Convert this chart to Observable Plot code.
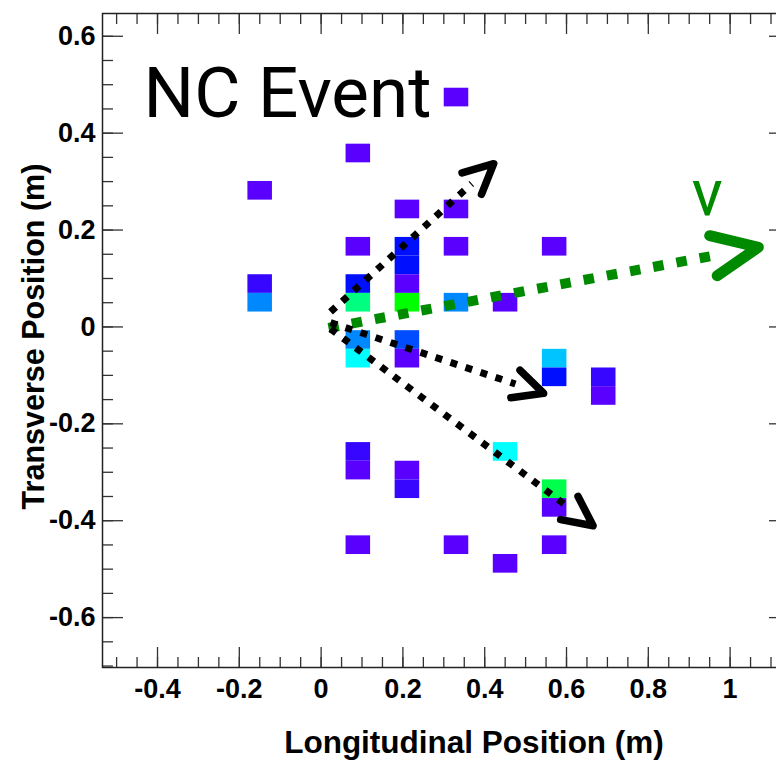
<!DOCTYPE html>
<html>
<head>
<meta charset="utf-8">
<script src="https://cdn.jsdelivr.net/npm/d3@7"></script>
<script src="https://cdn.jsdelivr.net/npm/@observablehq/plot@0.6"></script>
<style>
  html, body { margin: 0; padding: 0; background: #fff; overflow: hidden; }
  #chart svg { display: block; max-width: none !important; width: 790px !important; height: 761px !important; }
</style>
</head>
<body>
<div id="chart"></div>
<script>
// Hit cells of the event display: centre positions (m) and energy level
const cellX = [
  -0.149, -0.149, -0.149,
  0.091, 0.091, 0.091, 0.091, 0.091, 0.091, 0.091, 0.091, 0.091,
  0.211, 0.211, 0.211, 0.211, 0.211, 0.211, 0.211, 0.211, 0.211,
  0.331, 0.331, 0.331, 0.331, 0.331,
  0.451, 0.451, 0.451,
  0.571, 0.571, 0.571, 0.571, 0.571, 0.571,
  0.691, 0.691
];
const cellY = [
  0.281, 0.0885, 0.05,
  0.358, 0.1655, 0.0885, 0.05, -0.027, -0.0655, -0.258, -0.2965, -0.4505,
  0.2425, 0.1655, 0.127, 0.0885, 0.05, -0.027, -0.0655, -0.2965, -0.335,
  0.4735, 0.2425, 0.1655, 0.05, -0.4505,
  0.05, -0.258, -0.489,
  0.1655, -0.0655, -0.104, -0.335, -0.3735, -0.4505,
  -0.104, -0.1425
];
const cellEnergy = [
  1, 1.4, 3,
  1, 1, 2, 4.5, 3, 4, 1.4, 1, 1,
  1, 2, 2, 1, 5, 2.5, 1, 1, 1.4,
  1, 1, 1, 3, 1,
  1, 4, 1,
  1, 3.5, 2, 4.7, 1, 1,
  1.4, 1
];
// Cell size (m)
const cellWidth = 0.06;
const cellHeight = 0.0385;

// Colour palette for the energy levels (violet -> blue -> cyan -> green)
const energyPalette = ["#5a00ff", "#0010ff", "#0088ff", "#00ffff", "#00ff00"];

// Reconstructed particle directions: start and tip (m)
const trackStartX = [0.023, 0.023, 0.023];
const trackStartY = [0.031, 0.009, -0.004];
const trackTipX = [0.422, 0.544, 0.665];
const trackTipY = [0.337, -0.137, -0.4105];

// Incoming neutrino direction
const nuStart = {x: 0.018, y: -0.002};
const nuTip = {x: 1.069, y: 0.1645};

// Axis ticks
const xMajorTicks = [-0.4, -0.2, 0, 0.2, 0.4, 0.6, 0.8, 1];
const yMajorTicks = [-0.6, -0.4, -0.2, 0, 0.2, 0.4, 0.6];
const xMinorTicks = d3.range(-10, 23).map(i => i * 0.05);
const yMinorTicks = d3.range(-14, 13).map(i => i * 0.05);

// Layout
const W = 790, H = 761;
const M = {top: 13, right: 1, bottom: 94, left: 102};
const xDomain = [-0.5345, 1.1452];
const yDomain = [-0.703, 0.647];

const cells = cellX.map((x, i) => ({x, y: cellY[i], energy: cellEnergy[i]}));
const tracks = trackStartX.map((x1, i) => ({
  id: i, x1, y1: trackStartY[i], x2: trackTipX[i], y2: trackTipY[i]
}));
const nuTrack = [{id: "nu", x1: nuStart.x, y1: nuStart.y, x2: nuTip.x, y2: nuTip.y}];

// pixels per metre, used to build open arrowheads in screen proportions
const kx = (W - M.left - M.right) / (xDomain[1] - xDomain[0]);
const ky = (H - M.top - M.bottom) / (yDomain[1] - yDomain[0]);

function backAngle(a) {
  return Math.atan2(-(a.y2 - a.y1) * ky, (a.x2 - a.x1) * kx) + Math.PI;
}
function offsetPoint(a, len, ang) {
  return {x: a.x2 + len * Math.cos(ang) / kx, y: a.y2 - len * Math.sin(ang) / ky};
}
// open chevron: wing, tip, wing
function arrowHeads(arrows, len, spread) {
  return arrows.flatMap(a => {
    const b = backAngle(a);
    const w1 = offsetPoint(a, len, b - spread);
    const w2 = offsetPoint(a, len, b + spread);
    return [
      {id: a.id, x: w1.x, y: w1.y},
      {id: a.id, x: a.x2, y: a.y2},
      {id: a.id, x: w2.x, y: w2.y}
    ];
  });
}
// dotted shafts stop where the chevron opens
function shafts(arrows, len, spread) {
  return arrows.map(a => {
    const e = offsetPoint(a, len * Math.cos(spread), backAngle(a));
    return {id: a.id, x1: a.x1, y1: a.y1, x2: e.x, y2: e.y};
  });
}

const blackLen = 33, blackSpread = 26 * Math.PI / 180;
const greenLen = 50, greenSpread = 24 * Math.PI / 180;
const nuGreen = "#008a00";
const tickColor = "#333";

const chart = Plot.plot({
  width: W,
  height: H,
  marginTop: M.top,
  marginRight: M.right,
  marginBottom: M.bottom,
  marginLeft: M.left,
  style: {
    fontFamily: "'Liberation Sans', Arial, Helvetica, sans-serif",
    fontSize: "27px",
    fontWeight: "bold",
    color: "#000",
    background: "#fff"
  },
  x: {domain: xDomain},
  y: {domain: yDomain},
  color: {type: "linear", domain: [1, 5], interpolate: d3.piecewise(d3.interpolateRgb, energyPalette)},
  marks: [
    Plot.rect(cells, {
      x1: d => d.x - cellWidth / 2,
      x2: d => d.x + cellWidth / 2,
      y1: d => d.y - cellHeight / 2,
      y2: d => d.y + cellHeight / 2,
      fill: "energy"
    }),

    // neutrino direction
    Plot.link(shafts(nuTrack, greenLen, greenSpread), {
      x1: "x1", y1: "y1", x2: "x2", y2: "y2",
      stroke: nuGreen, strokeWidth: 10, strokeDasharray: "10.5,13.1", strokeLinecap: "butt"
    }),
    Plot.line(arrowHeads(nuTrack, greenLen, greenSpread), {
      x: "x", y: "y", z: "id",
      stroke: nuGreen, strokeWidth: 11, strokeLinecap: "round", strokeLinejoin: "round"
    }),
    Plot.text(nuTrack, {
      x: "x2", y: "y2", text: () => "ν",
      dx: -51, dy: -32, textAnchor: "middle", lineAnchor: "bottom",
      fill: nuGreen, fontSize: 64, fontWeight: "normal",
      fontFamily: "Roboto, 'Open Sans', sans-serif"
    }),

    // outgoing particle directions
    Plot.link(shafts(tracks, blackLen, blackSpread), {
      x1: "x1", y1: "y1", x2: "x2", y2: "y2",
      stroke: "#000", strokeWidth: 7, strokeDasharray: "7,8.8", strokeLinecap: "butt"
    }),
    Plot.line(arrowHeads(tracks, blackLen, blackSpread), {
      x: "x", y: "y", z: "id",
      stroke: "#000", strokeWidth: 7.5, strokeLinecap: "round", strokeLinejoin: "round"
    }),

    // event label
    Plot.text(["NC Event"], {
      frameAnchor: "top-left", text: d => d,
      dx: 41, dy: 103, textAnchor: "start", lineAnchor: "bottom",
      fontSize: 71, fontWeight: "normal", fill: "#000",
      fontFamily: "Roboto, 'Liberation Sans', sans-serif"
    }),

    // ticks on all four sides, pointing into the frame
    Plot.axisX(xMinorTicks, {anchor: "bottom", tickSize: -10, text: null, label: null, stroke: tickColor, strokeWidth: 1.3}),
    Plot.axisX(xMajorTicks, {anchor: "bottom", tickSize: -20, text: null, label: null, stroke: tickColor, strokeWidth: 1.3}),
    Plot.axisX(xMinorTicks, {anchor: "top", tickSize: -10, text: null, label: null, stroke: tickColor, strokeWidth: 1.3}),
    Plot.axisX(xMajorTicks, {anchor: "top", tickSize: -20, text: null, label: null, stroke: tickColor, strokeWidth: 1.3}),
    Plot.axisY(yMinorTicks, {anchor: "left", tickSize: -11, text: null, label: null, stroke: tickColor, strokeWidth: 1.3}),
    Plot.axisY(yMajorTicks, {anchor: "left", tickSize: -21, text: null, label: null, stroke: tickColor, strokeWidth: 1.3}),
    Plot.axisY(yMinorTicks, {anchor: "right", tickSize: -11, text: null, label: null, stroke: tickColor, strokeWidth: 1.3}),
    Plot.axisY(yMajorTicks, {anchor: "right", tickSize: -21, text: null, label: null, stroke: tickColor, strokeWidth: 1.3}),

    // tick labels
    Plot.axisX(xMajorTicks, {anchor: "bottom", tickSize: 0, tickPadding: 11, label: null, tickFormat: d => String(d), fill: "#000"}),
    Plot.axisY(yMajorTicks, {anchor: "left", tickSize: 0, tickPadding: 7, label: null, tickFormat: d => String(d), fill: "#000"}),

    // axis titles
    Plot.text(["Longitudinal Position (m)"], {
      frameAnchor: "bottom", text: d => d, dx: 28, dy: 85,
      textAnchor: "middle", lineAnchor: "bottom", fontSize: 31.5, fontWeight: "bold", fill: "#000"
    }),
    Plot.text(["Transverse Position (m)"], {
      frameAnchor: "left", text: d => d, dx: -59, dy: -4, rotate: -90,
      textAnchor: "middle", lineAnchor: "bottom", fontSize: 30.5, fontWeight: "bold", fill: "#000"
    }),

    Plot.frame({stroke: "#222", strokeWidth: 1.5})
  ]
});

document.getElementById("chart").append(chart);
</script>
</body>
</html>
